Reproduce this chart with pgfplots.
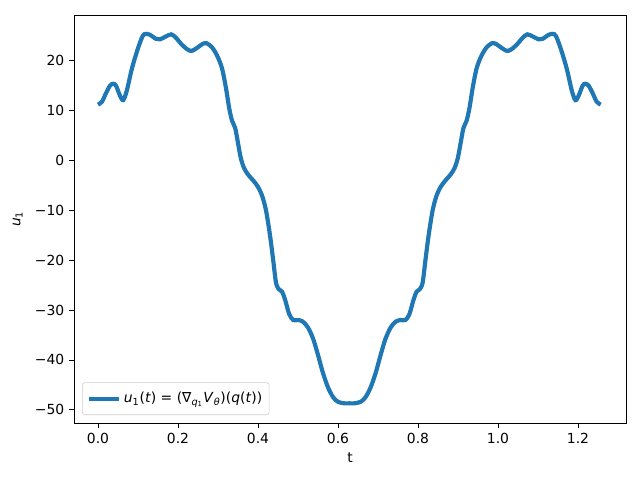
\documentclass[border=0pt]{standalone}
\usepackage{pgfplots}
\pgfplotsset{compat=1.18}
\usepackage{pgfplotstable}
\usepackage{fontspec}
\setmainfont{DejaVu Sans}
\definecolor{mplblue}{HTML}{1F77B4}
\pgfplotstableread{
t u
0.000 11.2
0.010 11.8
0.020 13.5
0.030 15.0
0.038 15.4
0.045 15.0
0.055 13.0
0.063 12.1
0.072 14.0
0.085 18.5
0.100 22.5
0.112 25.0
0.120 25.4
0.130 25.2
0.145 24.4
0.155 24.3
0.168 24.8
0.183 25.3
0.195 24.6
0.210 23.2
0.225 22.2
0.235 22.0
0.248 22.6
0.262 23.4
0.272 23.5
0.285 22.7
0.298 21.0
0.310 18.5
0.320 14.5
0.328 10.5
0.335 8.0
0.343 6.5
0.350 3.5
0.357 0.5
0.365 -1.5
0.375 -2.8
0.390 -4.2
0.400 -5.3
0.410 -7.0
0.420 -10.0
0.430 -15.0
0.438 -20.0
0.445 -24.5
0.452 -25.8
0.460 -26.3
0.468 -28.0
0.478 -30.8
0.488 -32.0
0.500 -32.0
0.512 -32.3
0.525 -33.5
0.538 -35.8
0.550 -39.0
0.562 -42.5
0.575 -45.5
0.588 -47.5
0.600 -48.4
0.615 -48.7
0.628 -48.7
0.6416 -48.7
0.6566 -48.4
0.6686 -47.5
0.6816 -45.5
0.6946 -42.5
0.7066 -39.0
0.7186 -35.8
0.7316 -33.5
0.7446 -32.3
0.7566 -32.0
0.7686 -32.0
0.7786 -30.8
0.7886 -28.0
0.7966 -26.3
0.8046 -25.8
0.8116 -24.5
0.8186 -20.0
0.8266 -15.0
0.8366 -10.0
0.8466 -7.0
0.8566 -5.3
0.8666 -4.2
0.8816 -2.8
0.8916 -1.5
0.8996 0.5
0.9066 3.5
0.9136 6.5
0.9216 8.0
0.9286 10.5
0.9366 14.5
0.9466 18.5
0.9586 21.0
0.9716 22.7
0.9846 23.5
0.9946 23.4
1.0086 22.6
1.0216 22.0
1.0316 22.2
1.0466 23.2
1.0616 24.6
1.0736 25.3
1.0886 24.8
1.1016 24.3
1.1116 24.4
1.1266 25.2
1.1366 25.4
1.1446 25.0
1.1566 22.5
1.1716 18.5
1.1846 14.0
1.1936 12.1
1.2016 13.0
1.2116 15.0
1.2186 15.4
1.2266 15.0
1.2366 13.5
1.2466 11.8
1.2566 11.2
}\datatable
\begin{document}
\begin{tikzpicture}
\begin{axis}[
  name=ax,
  scale only axis,
  width=397.44pt, height=293.76pt,
  xmin=-0.06, xmax=1.32,
  ymin=-52.65, ymax=29.18,
  xtick={0,0.2,0.4,0.6,0.8,1.0,1.2},
  xticklabels={0.0,0.2,0.4,0.6,0.8,1.0,1.2},
  ytick={-50,-40,-30,-20,-10,0,10,20},
  yticklabels={−50,−40,−30,−20,−10,0,10,20},
  tick align=outside,
  tick pos=left,
  major tick length=3.5pt,
  every tick/.style={black, line width=0.6pt},
  axis line style={line width=0.6pt},
  ticklabel style={font=\fontsize{10}{12}\selectfont},
  xlabel={t},
  ylabel={\textit{u}\textsubscript{1}},
  label style={font=\fontsize{10}{12}\selectfont},
  xlabel style={yshift=0pt},
  ylabel style={yshift=2pt},
  legend style={at={(0.0145,0.0196)}, anchor=south west, draw=black!20, rounded corners=2pt, font=\fontsize{10}{12}\selectfont, inner xsep=3pt, inner ysep=5pt},
  legend cell align=left,
  legend image code/.code={\draw[mplblue, line width=3pt] (0pt,0pt) -- (22pt,0pt);},
]
\addplot[mplblue, line width=3pt, smooth, tension=0.5] table[x=t, y=u] {\datatable};
\addlegendentry{\textit{u}\textsubscript{1}(\textit{t}) = (∇\textsubscript{\textit{q}\textsubscript{1}}\textit{V}\textsubscript{\textit{θ}})(\textit{q}(\textit{t}))}
\end{axis}
\useasboundingbox ([xshift=-53.28pt, yshift=-41.04pt]ax.south west) rectangle ([xshift=10.08pt, yshift=10.8pt]ax.north east);
\end{tikzpicture}
\end{document}
